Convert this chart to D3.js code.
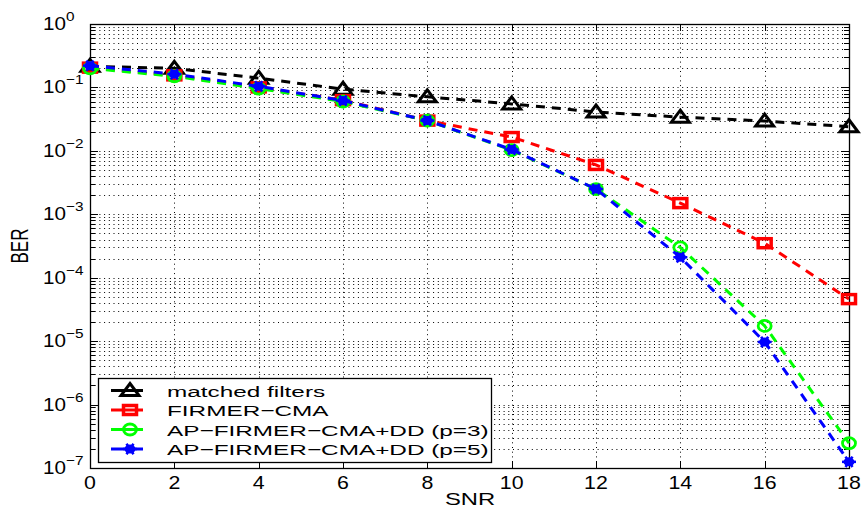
<!DOCTYPE html>
<html>
<head>
<meta charset="utf-8">
<script src="https://cdn.jsdelivr.net/npm/d3@7"></script>
<style>
  body { margin: 0; background: #fff; }
  text { font-family: "Liberation Sans", Arial, sans-serif; fill: #000; }
</style>
</head>
<body>
<div id="chart"></div>
<script>
'use strict';

// SNR values on the x axis
var snr = [0, 2, 4, 6, 8, 10, 12, 14, 16, 18];

// BER per method
var matchedFilters = [0.215, 0.2, 0.14, 0.094, 0.071, 0.055, 0.041, 0.034, 0.0295, 0.024];
var firmerCma      = [0.205, 0.155, 0.10, 0.063, 0.030, 0.0165, 0.006, 0.0015, 0.00035, 0.000046];
var apP3           = [0.2, 0.15, 0.096, 0.06, 0.030, 0.0103, 0.0025, 0.0003, 0.0000174, 0.000000246];
var apP5           = [0.22, 0.162, 0.104, 0.062, 0.030, 0.0105, 0.0025, 0.00021, 0.0000097, 0.000000125];

var seriesNames = ['matched filters', 'FIRMER\u2212CMA', 'AP\u2212FIRMER\u2212CMA+DD (p=3)', 'AP\u2212FIRMER\u2212CMA+DD (p=5)'];
var seriesColors = ['#000000', '#ff0000', '#00ff00', '#0000ff'];
var seriesMarkers = ['triangle', 'square', 'circle', 'asterisk'];

var xTicks = [0, 2, 4, 6, 8, 10, 12, 14, 16, 18];
var yExponents = [0, -1, -2, -3, -4, -5, -6, -7];

var width = 862, height = 508;
var margin = { top: 24, right: 12, bottom: 40, left: 90 };

var svg = d3.select('#chart').append('svg')
    .attr('width', width)
    .attr('height', height);

var x = d3.scaleLinear().domain([0, 18]).range([margin.left, width - margin.right - 1]);
var y = d3.scaleLog().domain([1e-7, 1]).range([height - margin.bottom, margin.top]);

var x0 = x.range()[0], x1 = x.range()[1], y0 = y.range()[0], y1 = y.range()[1];

// the source picture is stretched sideways, so text is too
function stretched(g, px, py, sx, size) {
  return g.append('text')
      .attr('transform', 'translate(' + px + ',' + py + ') scale(' + sx + ',1)')
      .attr('font-size', size);
}

// minor values for the log grid
var minorVals = [];
for (var e = -7; e < 0; e++) {
  for (var m = 1; m <= 9; m++) minorVals.push(m * Math.pow(10, e));
}
minorVals.push(1);

// grid
var grid = svg.append('g').attr('stroke', '#000').attr('stroke-width', 1).attr('stroke-dasharray', '1,3.7');
grid.selectAll('.hg').data(minorVals).enter().append('line')
    .attr('x1', x0).attr('x2', x1)
    .attr('y1', d => Math.round(y(d)) + 0.5).attr('y2', d => Math.round(y(d)) + 0.5);
grid.selectAll('.vg').data(xTicks).enter().append('line')
    .attr('x1', d => Math.round(x(d)) + 0.5).attr('x2', d => Math.round(x(d)) + 0.5)
    .attr('y1', y1).attr('y2', y0);

// ticks inside the box
var ticks = svg.append('g').attr('stroke', '#000').attr('stroke-width', 1);
xTicks.forEach(function (t) {
  var px = Math.round(x(t)) + 0.5;
  ticks.append('line').attr('x1', px).attr('x2', px).attr('y1', y0).attr('y2', y0 - 7);
  ticks.append('line').attr('x1', px).attr('x2', px).attr('y1', y1).attr('y2', y1 + 7);
});
minorVals.forEach(function (v) {
  var py = Math.round(y(v)) + 0.5;
  var major = Math.abs(Math.log10(v) - Math.round(Math.log10(v))) < 1e-9;
  var len = major ? 8 : 5;
  ticks.append('line').attr('x1', x0).attr('x2', x0 + len).attr('y1', py).attr('y2', py);
  ticks.append('line').attr('x1', x1).attr('x2', x1 - len).attr('y1', py).attr('y2', py);
});

// box
svg.append('rect')
    .attr('x', x0 + 0.5).attr('y', y1 + 0.5)
    .attr('width', x1 - x0).attr('height', y0 - y1)
    .attr('fill', 'none').attr('stroke', '#000').attr('stroke-width', 1.3);

// x tick labels
var xl = svg.append('g');
xTicks.forEach(function (t) {
  stretched(xl, x(t), y0 + 21, 1.22, 17.5)
      .attr('text-anchor', 'middle')
      .text(t);
});

// y tick labels 10^e
var yl = svg.append('g');
yExponents.forEach(function (ex) {
  var t = stretched(yl, 43, y(Math.pow(10, ex)) + 6, 1.18, 17.5);
  t.append('tspan').text('10');
  t.append('tspan').attr('font-size', 13).attr('dy', -9).text(ex === 0 ? '0' : '\u2212' + (-ex));
});

// axis titles
stretched(svg, 470, height - 3, 1.4, 17).attr('text-anchor', 'middle').text('SNR');
svg.append('text')
    .attr('transform', 'translate(28,' + 246 + ') scale(1.45,1) rotate(-90)')
    .attr('text-anchor', 'middle').attr('font-size', 17)
    .text('BER');

function drawMarker(g, kind, color, cx, cy) {
  if (kind === 'triangle') {
    g.append('path')
        .attr('d', 'M' + cx + ',' + (cy - 7) + 'L' + (cx + 9) + ',' + (cy + 5) + 'L' + (cx - 9) + ',' + (cy + 5) + 'Z')
        .attr('fill', 'none').attr('stroke', color).attr('stroke-width', 3).attr('stroke-linejoin', 'miter');
  } else if (kind === 'square') {
    g.append('rect')
        .attr('x', cx - 6.5).attr('y', cy - 4.5).attr('width', 13).attr('height', 9)
        .attr('fill', 'none').attr('stroke', color).attr('stroke-width', 3.5);
  } else if (kind === 'circle') {
    g.append('ellipse')
        .attr('cx', cx).attr('cy', cy).attr('rx', 6.5).attr('ry', 5.5)
        .attr('fill', 'none').attr('stroke', color).attr('stroke-width', 2.8);
  } else {
    g.append('ellipse')
        .attr('cx', cx).attr('cy', cy).attr('rx', 5.5).attr('ry', 4.5)
        .attr('fill', color);
    [0, 60, 120].forEach(function (a) {
      var r = a * Math.PI / 180;
      g.append('line')
          .attr('x1', cx - 7 * Math.cos(r)).attr('x2', cx + 7 * Math.cos(r))
          .attr('y1', cy - 6 * Math.sin(r)).attr('y2', cy + 6 * Math.sin(r))
          .attr('stroke', color).attr('stroke-width', 2.5);
    });
  }
}

var allSeries = [matchedFilters, firmerCma, apP3, apP5];

var line = d3.line().x((d, i) => x(snr[i])).y(d => y(d));

allSeries.forEach(function (vals, k) {
  var g = svg.append('g');
  g.append('path')
      .attr('d', line(vals))
      .attr('fill', 'none')
      .attr('stroke', seriesColors[k])
      .attr('stroke-width', 3)
      .attr('stroke-dasharray', '9,7');
  vals.forEach(function (v, i) {
    drawMarker(g, seriesMarkers[k], seriesColors[k], x(snr[i]), y(v));
  });
});

// legend
var lg = svg.append('g');
lg.append('rect')
    .attr('x', 98.5).attr('y', 378.5).attr('width', 393).attr('height', 84)
    .attr('fill', '#fff').attr('stroke', '#000').attr('stroke-width', 1.3);
seriesNames.forEach(function (name, k) {
  var ly = 390.5 + k * 19.5;
  lg.append('line')
      .attr('x1', 111).attr('x2', 143).attr('y1', ly).attr('y2', ly)
      .attr('stroke', seriesColors[k]).attr('stroke-width', 3);
  drawMarker(lg, seriesMarkers[k], seriesColors[k], 130, ly);
  stretched(lg, 167, ly + 6, 1.57, 15.5).text(name);
});
</script>
</body>
</html>
